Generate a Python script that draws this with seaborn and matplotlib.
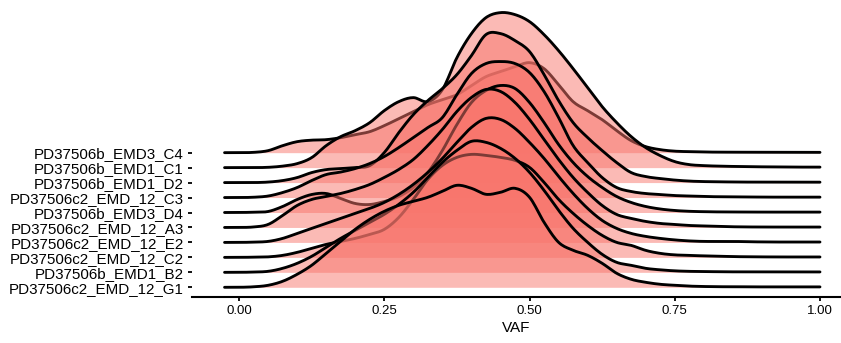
import numpy as np
import pandas as pd
import matplotlib
matplotlib.use("Agg")
import matplotlib.pyplot as plt
import seaborn as sns

# samples, listed top to bottom as on the y axis
samples = ["PD37506b_EMD3_C4", "PD37506b_EMD1_C1", "PD37506b_EMD1_D2",
           "PD37506c2_EMD_12_C3", "PD37506b_EMD3_D4", "PD37506c2_EMD_12_A3",
           "PD37506c2_EMD_12_E2", "PD37506c2_EMD_12_C2", "PD37506b_EMD1_B2",
           "PD37506c2_EMD_12_G1"]

# VAF positions at which ridge heights were read
vaf_grid = [-0.025, 0.0, 0.025, 0.05, 0.075, 0.1, 0.125, 0.15, 0.175, 0.2,
            0.225, 0.25, 0.275, 0.3, 0.325, 0.35, 0.375, 0.4, 0.425, 0.45,
            0.475, 0.5, 0.525, 0.55, 0.575, 0.6, 0.625, 0.65, 0.675, 0.7,
            0.725, 0.75, 0.775, 0.8, 0.825, 0.85, 0.875, 0.9, 0.925, 0.95,
            0.975, 1.0]

# ridge heights (relative density)
dens_C4 = [0, 0, 0.3, 2, 7, 11, 12.5, 13, 15, 18, 21, 27, 34, 41, 48, 53, 58, 67, 76, 81,
           86, 90, 84, 68, 51, 42, 33, 22, 12, 6, 3, 1.5, 1, 0.7, 0.5, 0.5, 0.4, 0.4, 0.3, 0.3,
           0.3, 0.3]
dens_C1 = [0, 0, 0, 0.3, 1.5, 4, 10, 22, 31, 37, 45, 57, 66, 70, 66, 78, 110, 134, 150, 155,
           153, 146, 133, 117, 99, 80, 61, 45, 31, 20, 12, 6, 3, 2, 1.5, 1.2, 1, 0.8, 0.7, 0.6,
           0.5, 0.5]
dens_D2 = [0, 0, 0, 0.5, 2, 5, 10, 13, 14, 15, 17, 30, 50, 68, 82, 94, 108, 127, 148, 149,
           142, 131, 108, 82, 60, 45, 32, 20, 10, 6, 4, 2.5, 1.5, 1, 0.8, 0.6, 0.5, 0.5, 0.4, 0.4,
           0.4, 0.4]
dens_C3 = [0, 0, 0.3, 1.5, 5, 10, 17, 23, 25.5, 29, 34, 41, 50, 60, 70, 80, 103, 124, 134, 136,
           134, 125, 106, 80, 52, 35, 20, 10, 6, 4, 3, 2, 1.5, 1, 0.8, 0.6, 0.5, 0.5, 0.4, 0.4,
           0.4, 0.4]
dens_D4 = [0, 0, 0.3, 1, 6, 13, 18, 19, 14, 9, 8, 11, 16, 25, 40, 62, 88, 110, 122, 127,
           124, 110, 90, 68, 50, 36, 25, 16, 10, 6, 3.5, 2, 1.2, 0.8, 0.6, 0.5, 0.5, 0.4, 0.4, 0.4,
           0.4, 0.4]
dens_A3 = [0, 0, 0.5, 3, 12, 22, 28, 31, 34, 38, 43, 50, 58, 68, 82, 98, 116, 130, 138, 136,
           125, 108, 88, 68, 50, 35, 22, 13, 9, 6, 4, 3, 2, 1.5, 1, 0.7, 0.5, 0.5, 0.4, 0.4,
           0.4, 0.4]
dens_E2 = [0, 0, 0.3, 1, 4, 9, 14, 19, 24, 29, 34, 40, 48, 58, 70, 84, 100, 115, 124, 123,
           114, 100, 84, 66, 49, 34, 22, 14, 9, 6, 4, 2.5, 1.5, 1, 1, 1, 0.7, 0.5, 0.4, 0.4,
           0.4, 0.4]
dens_C2 = [0, 0, 0.2, 0.5, 2, 5, 9, 13, 16, 19, 23, 28, 40, 58, 78, 92, 100, 103, 102, 100,
           97, 90, 75, 58, 44, 32, 22, 15, 12, 7, 4, 2.5, 2, 1.5, 1.2, 0.8, 0.6, 0.5, 0.4, 0.4,
           0.4, 0.4]
dens_B2 = [0, 0, 0.3, 1, 4, 9, 16, 25, 34, 42, 50, 58, 68, 80, 95, 110, 122, 131, 130, 124,
           114, 100, 82, 62, 44, 30, 18, 10, 7, 4, 2.5, 1.5, 1, 0.8, 0.6, 0.5, 0.5, 0.4, 0.4, 0.4,
           0.4, 0.4]
dens_G1 = [0, 0, 0.5, 2, 6, 13, 22, 34, 46, 58, 68, 76, 82, 86, 90, 96, 102, 99, 93, 95,
           99, 90, 65, 45, 37, 32, 24, 14, 8, 5, 3, 2, 1.2, 0.8, 0.6, 0.5, 0.5, 0.4, 0.4, 0.4,
           0.4, 0.4]

x_ticks = [0.0, 0.25, 0.5, 0.75, 1.0]
x_tick_labels = ["0.00", "0.25", "0.50", "0.75", "1.00"]
x_label = "VAF"

dens = dict(zip(samples, [dens_C4, dens_C1, dens_D2, dens_C3, dens_D4,
                          dens_A3, dens_E2, dens_C2, dens_B2, dens_G1]))

RIDGE_SCALE = 1 / 14.96
FILL = "#F8766D"


def smooth_path(x, y, k=10):
    """Catmull-Rom rendering of a curve through the read points."""
    x = np.asarray(x, float)
    y = np.asarray(y, float)
    yp = np.concatenate([[y[0]], y, [y[-1]]])
    xs, ys = [], []
    t = np.linspace(0, 1, k, endpoint=False)
    for i in range(len(x) - 1):
        p0, p1, p2, p3 = yp[i], yp[i + 1], yp[i + 2], yp[i + 3]
        seg = 0.5 * ((2 * p1) + (-p0 + p2) * t + (2 * p0 - 5 * p1 + 4 * p2 - p3) * t ** 2
                     + (-p0 + 3 * p1 - 3 * p2 + p3) * t ** 3)
        xs.append(x[i] + (x[i + 1] - x[i]) * t)
        ys.append(seg)
    xs.append([x[-1]])
    ys.append([y[-1]])
    return np.concatenate(xs), np.clip(np.concatenate(ys), 0, None)


sns.set_theme(style="white")
plt.rcParams['font.family'] = ['Liberation Sans', 'DejaVu Sans']

W, H = 841, 343
fig = plt.figure(figsize=(W / 100, H / 100), dpi=100)
ax = fig.add_axes([192 / W, (H - 296.5) / H, 1 - 192 / W, (296.5 - 5) / H])

n = len(samples)
for k, name in enumerate(samples):
    base = n - k
    xs, hs = smooth_path(vaf_grid, dens[name])
    curve = pd.DataFrame({"VAF": xs, "y": base + hs * RIDGE_SCALE})
    ax.fill_between(curve["VAF"], base, curve["y"], color=FILL, alpha=0.5,
                    linewidth=0, zorder=2 * k + 1)
    sns.lineplot(data=curve, x="VAF", y="y", ax=ax, color="black", linewidth=2.05,
                 sort=False, estimator=None, zorder=2 * k + 2)

ax.set_xlim(-0.081, (W - 239) / 581)
ax.set_ylim(1 - 9.2 / 14.96, 1 + (287.3 - 5) / 14.96)

ax.set_yticks(range(1, n + 1))
ax.set_yticklabels(samples[::-1])
ax.set_xticks(x_ticks)
ax.set_xticklabels(x_tick_labels)
ax.set_xlabel(x_label, fontsize=11, color="black", labelpad=3)
ax.set_ylabel("")

for s in ["top", "right", "left"]:
    ax.spines[s].set_visible(False)
ax.spines["bottom"].set_color("black")
ax.spines["bottom"].set_linewidth(1.5)

ax.tick_params(axis="x", bottom=True, length=3, width=1.3, color="black",
               labelsize=9.5, labelcolor="black", pad=3, direction="out")
ax.tick_params(axis="y", left=True, length=3, width=1.3, color="black",
               labelsize=10.9, labelcolor="black", pad=3, direction="out")
ax.grid(False)
ax.set_facecolor("white")

fig.savefig("out.png", dpi=100)
